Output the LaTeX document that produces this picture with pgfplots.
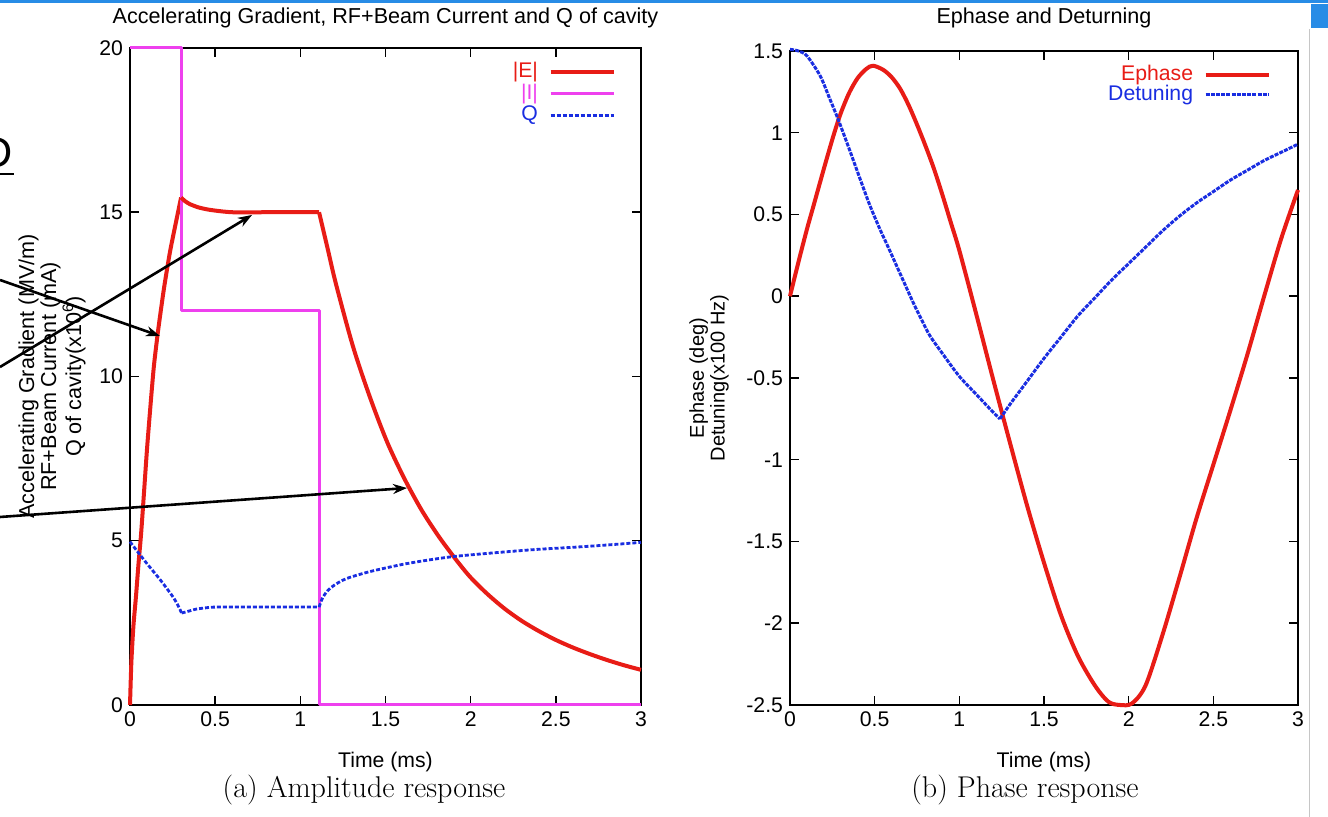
\documentclass[border=0pt]{standalone}
\usepackage{fontspec}
\usepackage{pgfplots}
\pgfplotsset{compat=1.18}
\usetikzlibrary{arrows.meta}
\newfontfamily\gp{Liberation Sans}
\definecolor{gpred}{RGB}{232,28,22}
\definecolor{gppink}{RGB}{238,64,238}
\definecolor{gpblue}{RGB}{25,45,225}
\definecolor{slideblue}{RGB}{40,140,230}
\pgfplotsset{gpstyle/.style={
  scale only axis, clip=false,
  xmin=0, xmax=3,
  xtick={0,0.5,1,1.5,2,2.5,3}, xticklabels={0,0.5,1,1.5,2,2.5,3},
  tick align=inside, major tick length=4.5pt,
  every tick/.style={black, line width=0.75pt},
  axis line style={line width=0.75pt},
  tick label style={font=\gp\fontsize{10.6}{12}\selectfont},
  xlabel style={font=\gp\fontsize{10.6}{12}\selectfont},
  legend style={draw=none, fill=none, font=\gp\fontsize{10.6}{12}\selectfont,
    inner sep=0pt, column sep=4.5pt,
    nodes={inner sep=0.8pt, text height=8pt, text depth=2.5pt}},
  legend cell align=right, legend plot pos=right,
  legend image code/.code={\draw[##1] (0pt,0pt) -- (31.5pt,0pt);},
  every axis plot/.append style={no markers, line join=round},
}}
\begin{document}
\begin{tikzpicture}
\path[use as bounding box] (0,0) rectangle (664pt,408.5pt);
\fill[white] (0,0) rectangle (664pt,408.5pt);
% ---------------- left plot ----------------
\begin{axis}[gpstyle,
  at={(65pt,56pt)}, anchor=south west,
  width=255.5pt, height=328.5pt,
  ymin=0, ymax=20, ytick={0,5,10,15,20}, yticklabels={0,5,10,15,20},
  xlabel={Time (ms)},
  xlabel style={at={(axis description cs:0.5,-0.0868)}, anchor=center},
  ylabel={Accelerating Gradient (MV/m)\\RF+Beam Current (mA)\\Q of cavity(x10\textsuperscript{6})},
  ylabel style={font=\gp\fontsize{10.8}{10}\selectfont, align=center,
    at={(axis description cs:-0.1526,0.5)}, anchor=center},
  legend style={at={(axis description cs:0.951,0.982)}, anchor=north east, row sep=-1.35pt},
]
\addplot[gpred, line width=2pt, smooth, tension=0.4] table[x=t, y=v] {
t v
0 0
0.008 1.3
0.02 2.4
0.035 3.3
0.05 4.3
0.065 5.2
0.08 6.3
0.1 7.8
0.12 9.1
0.14 10.3
0.165 11.4
0.2 12.7
0.235 13.8
0.27 14.7
0.3 15.45
};
\addlegendentry{\textcolor{gpred}{|E|}}
\addplot[gppink, line width=1.5pt] table[x=t, y=v] {
t v
0 20
0.305 20
0.305 12
1.11 12
1.11 0
3 0
};
\addlegendentry{\textcolor{gppink}{|I|}}
\addplot[gpblue, line width=1.4pt, dash pattern=on 2pt off 1pt, smooth, tension=0.4] table[x=t, y=v] {
t v
0 4.97
0.05 4.63
0.1 4.3
0.135 4.08
0.17 3.86
0.2 3.66
0.23 3.45
0.255 3.27
0.28 3.05
0.303 2.8
};
\addlegendentry{\textcolor{gpblue}{Q}}
\addplot[gpred, line width=2pt, smooth, tension=0.4, forget plot] table[x=t, y=v] {
t v
0.3 15.45
0.32 15.35
0.35 15.25
0.4 15.15
0.45 15.09
0.5 15.05
0.6 15.0
0.8 15.0
1.11 15.0
};
\addplot[gpred, line width=2pt, smooth, tension=0.5, forget plot] table[x=t, y=v] {
t v
1.11 15.0
1.16 13.9
1.21 12.8
1.31 10.9
1.41 9.35
1.51 8.0
1.61 6.9
1.71 5.95
1.81 5.15
1.91 4.45
2.0 3.88
2.1 3.37
2.2 2.93
2.3 2.56
2.4 2.25
2.5 1.98
2.6 1.75
2.7 1.55
2.8 1.37
2.9 1.21
3.0 1.07
};
\addplot[gpblue, line width=1.4pt, dash pattern=on 2pt off 1pt, smooth, tension=0.4, forget plot] table[x=t, y=v] {
t v
0.303 2.8
0.333 2.84
0.39 2.92
0.45 2.96
0.5 2.98
0.8 2.98
1.11 2.98
};
\addplot[gpblue, line width=1.4pt, dash pattern=on 2pt off 1pt, smooth, tension=0.5, forget plot] table[x=t, y=v] {
t v
1.11 2.98
1.13 3.25
1.16 3.48
1.2 3.65
1.25 3.8
1.3 3.9
1.4 4.05
1.5 4.17
1.6 4.28
1.7 4.37
1.8 4.45
1.9 4.52
2.0 4.57
2.2 4.66
2.4 4.74
2.6 4.8
2.8 4.87
3.0 4.95
};
\node[font=\gp\fontsize{10.8}{12}\selectfont] at (axis description cs:0.5,1.0457) {Accelerating Gradient, RF+Beam Current and Q of cavity};
\node[font=\fontsize{15}{18}\selectfont] at (axis description cs:0.458,-0.129) {(a) Amplitude response};
\end{axis}
% ---------------- right plot ----------------
\begin{axis}[gpstyle,
  at={(395pt,56pt)}, anchor=south west,
  width=254pt, height=327pt,
  ymin=-2.5, ymax=1.5, ytick={-2.5,-2,-1.5,-1,-0.5,0,0.5,1,1.5},
  yticklabels={-2.5,-2,-1.5,-1,-0.5,0,0.5,1,1.5},
  xlabel={Time (ms)},
  xlabel style={at={(axis description cs:0.5,-0.0872)}, anchor=center},
  ylabel={Ephase (deg)\\Detuning(x100 Hz)},
  ylabel style={font=\gp\fontsize{10}{9}\selectfont, align=center,
    at={(axis description cs:-0.1594,0.5)}, anchor=center},
  legend style={at={(axis description cs:0.947,0.983)}, anchor=north east, row sep=-2.1pt},
]
\addplot[gpred, line width=2pt, smooth, tension=0.5] table[x=t, y=v] {
t v
0 0
0.05 0.21
0.1 0.41
0.138 0.55
0.2 0.78
0.256 0.98
0.3 1.12
0.35 1.245
0.4 1.335
0.45 1.39
0.49 1.41
0.55 1.385
0.6 1.34
0.65 1.27
0.7 1.17
0.75 1.05
0.8 0.92
0.85 0.78
0.9 0.62
0.95 0.45
1.0 0.28
1.1 -0.11
1.2 -0.51
1.3 -0.9
1.4 -1.28
1.5 -1.63
1.6 -1.95
1.7 -2.2
1.8 -2.38
1.88 -2.48
1.95 -2.5
2.02 -2.49
2.1 -2.38
2.2 -2.07
2.3 -1.72
2.4 -1.36
2.5 -1.03
2.6 -0.70
2.7 -0.36
2.8 0.0
2.9 0.35
3.0 0.65
};
\addlegendentry{\textcolor{gpred}{Ephase}}
\addplot[gpblue, line width=1.5pt, dash pattern=on 2pt off 0.6pt, smooth, tension=0.5] table[x=t, y=v] {
t v
0 1.51
0.05 1.5
0.1 1.47
0.177 1.35
0.23 1.22
0.285 1.08
0.35 0.9
0.413 0.72
0.47 0.56
0.531 0.41
0.58 0.3
0.63 0.185
0.68 0.07
0.728 -0.04
0.78 -0.15
0.827 -0.243
0.9 -0.35
1.0 -0.49
1.1 -0.6
1.2 -0.71
1.24 -0.75
};
\addlegendentry{\textcolor{gpblue}{Detuning}}
\addplot[gpblue, line width=1.5pt, dash pattern=on 2pt off 0.6pt, smooth, tension=0.5, forget plot] table[x=t, y=v] {
t v
1.24 -0.75
1.3 -0.66
1.4 -0.52
1.5 -0.38
1.6 -0.25
1.7 -0.12
1.8 -0.01
1.9 0.1
2.0 0.2
2.1 0.3
2.2 0.4
2.3 0.49
2.4 0.57
2.5 0.64
2.6 0.71
2.7 0.77
2.8 0.83
2.9 0.88
3.0 0.93
};
\node[font=\gp\fontsize{10.8}{12}\selectfont] at (axis description cs:0.5,1.0505) {Ephase and Deturning};
\node[font=\fontsize{15}{18}\selectfont] at (axis description cs:0.4626,-0.130) {(b) Phase response};
\end{axis}
% ---------------- slide decorations ----------------
\fill[slideblue] (0,407pt) rectangle (664pt,408.5pt);
\fill[slideblue] (655.5pt,394.5pt) rectangle (664pt,406.5pt);
\draw[gray!45, line width=0.5pt] (654.5pt,0) -- (654.5pt,394pt);
\node[anchor=base east, inner sep=0pt, font=\gp\fontsize{21.6}{24}\selectfont] at (6.5pt,324.5pt) {D};
\draw[line width=1pt] (0,321.5pt) -- (7pt,321.5pt);
\draw[line width=1.3pt, -{Stealth[length=7pt,width=5pt]}] (0,268.5pt) -- (80pt,240.5pt);
\draw[line width=1.3pt, -{Stealth[length=7pt,width=5pt]}] (0,225pt) -- (126pt,301pt);
\draw[line width=1.3pt, -{Stealth[length=7pt,width=5pt]}] (0,150pt) -- (203.5pt,164.5pt);
\end{tikzpicture}
\end{document}
